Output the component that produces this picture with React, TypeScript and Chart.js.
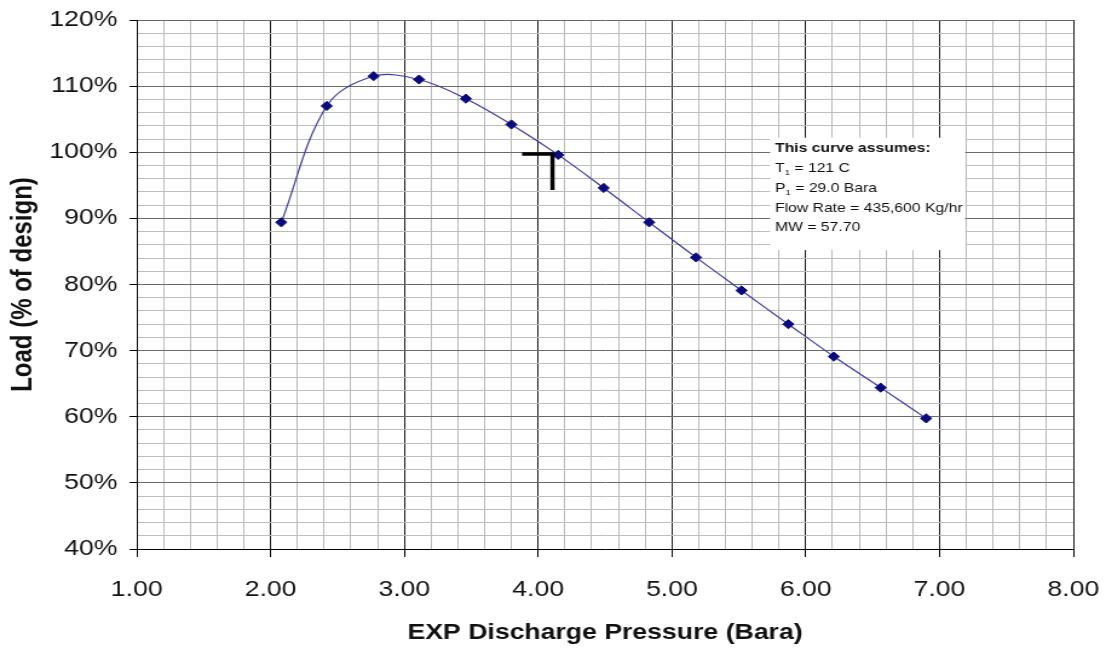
import React, { useEffect, useRef } from 'react';
import { Chart, registerables } from 'chart.js';

Chart.register(...registerables);

// ---- data ----
const PRESSURE_BARA = [2.08, 2.42, 2.77, 3.11, 3.46, 3.80, 4.15, 4.49, 4.83, 5.18, 5.52, 5.87, 6.21, 6.56, 6.90];
const LOAD_PCT = [89.4, 107.0, 111.5, 111.0, 108.1, 104.2, 99.6, 94.6, 89.4, 84.1, 79.1, 74.0, 69.1, 64.4, 59.75];

// design point marker (black corner)
const MARK_X = [3.88, 4.107, 4.107];
const MARK_Y = [99.75, 99.75, 94.3];

const X_MIN = 1;
const X_MAX = 8;
const X_MINOR = 0.2;
const X_MAJOR = 1;
const Y_MIN = 40;
const Y_MAX = 120;
const Y_MINOR = 2;
const Y_MAJOR = 10;

const X_TITLE = 'EXP Discharge Pressure (Bara)';
const Y_TITLE = 'Load (% of design)';

type Seg = { t: string; sub?: boolean };
const NOTE_LINES: { bold?: boolean; segs: Seg[] }[] = [
  { bold: true, segs: [{ t: 'This curve assumes:' }] },
  { segs: [{ t: 'T' }, { t: '1', sub: true }, { t: ' = 121 C' }] },
  { segs: [{ t: 'P' }, { t: '1', sub: true }, { t: ' = 29.0 Bara' }] },
  { segs: [{ t: 'Flow Rate = 435,600 Kg/hr' }] },
  { segs: [{ t: 'MW = 57.70' }] },
];
// note box corners in data units
const NOTE_BOX_X = [5.734, 7.192];
const NOTE_BOX_Y = [102.2, 85.2];

const FONT = '"Liberation Sans", Arial, sans-serif';
const STRETCH = 1.21; // reference picture is horizontally stretched
const PAGE_W = 1106;
const PAGE_H = 651;
const CANVAS_W = Math.round(PAGE_W / STRETCH);

const isMajor = (v: number, step: number) => Math.abs(v / step - Math.round(v / step)) < 1e-6;

const notePlugin = {
  id: 'noteBox',
  beforeDatasetsDraw(chart: any) {
    const { ctx, scales } = chart;
    const x0 = scales.x.getPixelForValue(NOTE_BOX_X[0]);
    const x1 = scales.x.getPixelForValue(NOTE_BOX_X[1]);
    const y0 = scales.y.getPixelForValue(NOTE_BOX_Y[0]);
    const y1 = scales.y.getPixelForValue(NOTE_BOX_Y[1]);
    ctx.save();
    ctx.fillStyle = '#ffffff';
    ctx.fillRect(x0, y0, x1 - x0, y1 - y0);
    ctx.fillStyle = '#111111';
    ctx.textBaseline = 'middle';
    ctx.textAlign = 'left';
    let ly = y0 + 11.2;
    for (const line of NOTE_LINES) {
      let lx = x0 + 4;
      for (const s of line.segs) {
        if (s.sub) {
          ctx.font = `${line.bold ? 'bold ' : ''}8px ${FONT}`;
          ctx.fillText(s.t, lx, ly + 4);
        } else {
          ctx.font = `${line.bold ? 'bold ' : ''}13px ${FONT}`;
          ctx.fillText(s.t, lx, ly);
        }
        lx += ctx.measureText(s.t).width;
      }
      ly += 19.7;
    }
    ctx.restore();
  },
};

export default function App() {
  const ref = useRef<HTMLCanvasElement | null>(null);

  useEffect(() => {
    document.body.style.margin = '0';
    const canvas = ref.current;
    if (!canvas) return;
    const chart = new Chart(canvas, {
      type: 'line',
      data: {
        datasets: [
          {
            data: PRESSURE_BARA.map((x, i) => ({ x, y: LOAD_PCT[i] })),
            borderColor: '#3a3aa8',
            borderWidth: 1.2,
            tension: 0.35,
            pointStyle: 'rectRot',
            pointRadius: 4.6,
            pointBackgroundColor: '#0a0a80',
            pointBorderColor: '#0a0a80',
            pointBorderWidth: 1,
            fill: false,
            order: 1,
          },
          {
            data: MARK_X.map((x, i) => ({ x, y: MARK_Y[i] })),
            borderColor: '#000000',
            borderWidth: 3.5,
            tension: 0,
            pointRadius: 0,
            borderJoinStyle: 'miter',
            borderCapStyle: 'butt',
            fill: false,
            order: 0,
          },
        ],
      },
      plugins: [notePlugin],
      options: {
        animation: false,
        responsive: false,
        devicePixelRatio: 1,
        events: [],
        layout: { padding: { top: 20, right: 27, left: 0, bottom: 0 } },
        plugins: {
          legend: { display: false },
          tooltip: { enabled: false },
        },
        scales: {
          x: {
            type: 'linear',
            min: X_MIN,
            max: X_MAX,
            afterFit: (s: any) => {
              s.height = 102;
              s.paddingLeft = 0;
              s.paddingRight = 0;
            },
            border: { color: '#000', width: 1 },
            grid: {
              color: (c: any) => (isMajor(c.tick.value, X_MAJOR) ? '#1a1a1a' : '#b8b8b8'),
              tickColor: (c: any) => (isMajor(c.tick.value, X_MAJOR) ? '#000' : 'rgba(0,0,0,0)'),
              tickLength: 8,
              lineWidth: 1,
            },
            ticks: {
              stepSize: X_MINOR,
              autoSkip: false,
              maxRotation: 0,
              minRotation: 0,
              padding: 20,
              color: '#111',
              font: { family: FONT, size: 22 },
              callback: (v: any) => (isMajor(Number(v), X_MAJOR) ? Number(v).toFixed(2) : ''),
            },
            title: {
              display: true,
              text: X_TITLE,
              color: '#111',
              font: { family: FONT, size: 22, weight: 'bold' },
              padding: { top: 0, bottom: 5 },
            },
          },
          y: {
            type: 'linear',
            min: Y_MIN,
            max: Y_MAX,
            afterFit: (s: any) => {
              s.width = 113;
              s.paddingTop = 0;
              s.paddingBottom = 0;
            },
            border: { color: '#000', width: 1 },
            grid: {
              color: (c: any) => (isMajor(c.tick.value, Y_MAJOR) ? '#6a6a6a' : '#bdbdbd'),
              tickColor: (c: any) => (isMajor(c.tick.value, Y_MAJOR) ? '#000' : 'rgba(0,0,0,0)'),
              tickLength: 6,
              lineWidth: 1,
            },
            ticks: {
              stepSize: Y_MINOR,
              autoSkip: false,
              padding: 10,
              color: '#111',
              font: { family: FONT, size: 22 },
              callback: (v: any) => (isMajor(Number(v), Y_MAJOR) ? `${Number(v)}%` : ''),
            },
            title: {
              display: true,
              text: Y_TITLE,
              color: '#111',
              font: { family: FONT, size: 24, weight: 'bold' },
              padding: { top: 4.6, bottom: 0 },
            },
          },
        },
      },
    } as any);
    return () => chart.destroy();
  }, []);

  return (
    <div style={{ width: PAGE_W, height: PAGE_H, background: '#fff' }}>
      <canvas
        ref={ref}
        width={CANVAS_W}
        height={PAGE_H}
        style={{ display: 'block', width: `${PAGE_W}px`, height: `${PAGE_H}px` }}
      />
    </div>
  );
}
